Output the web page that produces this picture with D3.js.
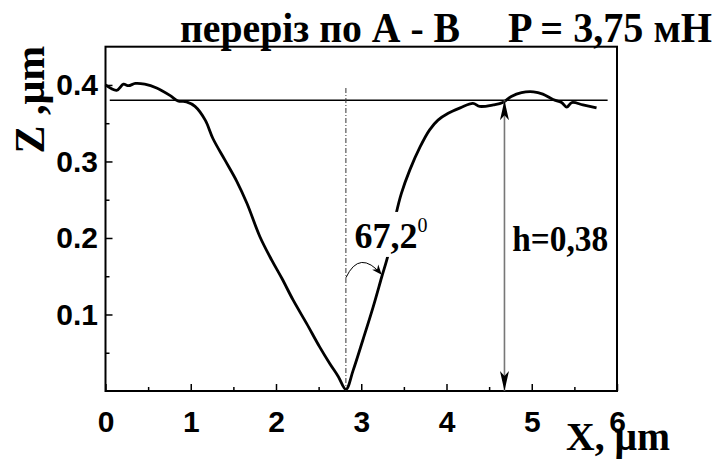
<!DOCTYPE html>
<html>
<head>
<meta charset="utf-8">
<script src="https://cdn.jsdelivr.net/npm/d3@7"></script>
<style>
  html, body { margin: 0; padding: 0; background: #fff; }
  svg { display: block; }
</style>
</head>
<body>
<svg id="chart" width="728" height="461"></svg>
<script>
// Surface profile along section A-B (AFM scan), X and Z in µm
const profileX = [0, 0.13, 0.21, 0.27, 0.35, 0.46, 0.60, 0.76, 0.85, 0.95, 1.05, 1.17, 1.26, 1.40, 1.54, 1.66,
  1.81, 1.95, 2.07, 2.20, 2.36, 2.51, 2.63, 2.73, 2.82, 2.905, 3.02, 3.14, 3.24, 3.32, 3.41, 3.47, 3.57,
  3.69, 3.80, 3.90, 4.02, 4.16, 4.31, 4.39, 4.55, 4.66, 4.76, 4.88, 5.02, 5.13, 5.25, 5.35, 5.41, 5.47,
  5.60, 5.76];
const profileZ = [0.400, 0.393, 0.401, 0.399, 0.402, 0.401, 0.396, 0.386, 0.379, 0.378, 0.372, 0.354, 0.330,
  0.302, 0.274, 0.245, 0.202, 0.171, 0.147, 0.119, 0.088, 0.058, 0.036, 0.019, 0.002, 0.027, 0.067, 0.110,
  0.149, 0.180, 0.232, 0.258, 0.289, 0.319, 0.341, 0.354, 0.363, 0.370, 0.376, 0.372, 0.374, 0.377, 0.385,
  0.390, 0.391, 0.388, 0.381, 0.377, 0.371, 0.377, 0.374, 0.370];

// Axis ticks
const xMajor = [0, 1, 2, 3, 4, 5, 6];
const xMinor = [0.5, 1.5, 2.5, 3.5, 4.5, 5.5];
const yMajor = [0.1, 0.2, 0.3, 0.4];
const yMinor = [0.05, 0.15, 0.25, 0.35];

// Annotations
const surfaceLevel = 0.38;     // h = 0,38 µm
const depthArrowX = 4.68;
const pitX = 2.82;             // deepest point of the indent
const pitLineTop = 0.396;
const levelLineX = [0.05, 5.89];
const angleArc = [[2.82, 0.148], [2.98, 0.186], [3.24, 0.152]];
const angleLabelPos = [2.92, 0.187];
const hLabelPos = [4.77, 0.183];

const titleLeft = "переріз по А - В";
const titleRight = "P = 3,75 мН";

const svg = d3.select("#chart");
const x = d3.scaleLinear().domain([0, 6]).range([105.5, 617]);
const y = d3.scaleLinear().domain([0, 0.45]).range([391, 46.7]);

const serif = "'Liberation Serif', 'Times New Roman', serif";
const sans = "'Liberation Sans', Arial, sans-serif";

// Title
svg.append("text").attr("x", 180).attr("y", 42)
  .attr("font-family", serif).attr("font-weight", "bold").attr("font-size", 42)
  .attr("textLength", 280).attr("lengthAdjust", "spacingAndGlyphs")
  .text(titleLeft);
svg.append("text").attr("x", 508).attr("y", 42)
  .attr("font-family", serif).attr("font-weight", "bold").attr("font-size", 42)
  .attr("textLength", 204).attr("lengthAdjust", "spacingAndGlyphs")
  .text(titleRight);

// Axes with inward ticks
const gx = svg.append("g").attr("transform", `translate(0,${y(0)})`);
gx.call(d3.axisBottom(x).tickValues(xMajor).tickSize(-7).tickPadding(20).tickFormat(d3.format("d")));
gx.append("g").call(d3.axisBottom(x).tickValues(xMinor).tickSize(-4).tickFormat(""));
gx.selectAll(".domain").remove();
gx.selectAll("line").attr("stroke", "#000").attr("stroke-width", 1.5);
gx.selectAll("text").attr("font-family", sans).attr("font-weight", "bold").attr("font-size", 30).attr("fill", "#000");

const gy = svg.append("g").attr("transform", `translate(${x(0)},0)`);
gy.call(d3.axisLeft(y).tickValues(yMajor).tickSize(-7).tickPadding(7.5).tickFormat(d3.format(".1f")));
gy.append("g").call(d3.axisLeft(y).tickValues(yMinor).tickSize(-4).tickFormat(""));
gy.selectAll(".domain").remove();
gy.selectAll("line").attr("stroke", "#000").attr("stroke-width", 1.5);
gy.selectAll("text").attr("font-family", sans).attr("font-weight", "bold").attr("font-size", 30).attr("fill", "#000");

// Frame
svg.append("rect")
  .attr("x", x(0)).attr("y", y(0.45))
  .attr("width", x(6) - x(0)).attr("height", y(0) - y(0.45))
  .attr("fill", "none").attr("stroke", "#000").attr("stroke-width", 2);

// Axis titles
svg.append("text")
  .attr("transform", `translate(44,${y(0.3) - 8}) rotate(-90)`)
  .attr("font-family", serif).attr("font-weight", "bold").attr("font-size", 42)
  .text("Z ,μm");
svg.append("text").attr("x", 566).attr("y", 450)
  .attr("font-family", serif).attr("font-weight", "bold").attr("font-size", 40)
  .attr("textLength", 104).attr("lengthAdjust", "spacingAndGlyphs")
  .text("X, μm");

// Markers
const defs = svg.append("defs");
defs.append("marker").attr("id", "headV")
  .attr("viewBox", "-20 -5 22 10").attr("refX", 0).attr("refY", 0)
  .attr("markerWidth", 22).attr("markerHeight", 10).attr("markerUnits", "userSpaceOnUse")
  .attr("orient", "auto-start-reverse")
  .append("path").attr("d", "M0,0 L-20,-4.5 L-15,0 L-20,4.5 Z").attr("fill", "#000");
defs.append("marker").attr("id", "headA")
  .attr("viewBox", "-10 -5 11 10").attr("refX", 0).attr("refY", 0)
  .attr("markerWidth", 11).attr("markerHeight", 10).attr("markerUnits", "userSpaceOnUse")
  .attr("orient", "auto")
  .append("path").attr("d", "M0,0 L-10,-4 L-7,0 L-10,4 Z").attr("fill", "#000");

// Surface level line
svg.append("line")
  .attr("x1", x(levelLineX[0])).attr("x2", x(levelLineX[1]))
  .attr("y1", y(surfaceLevel)).attr("y2", y(surfaceLevel))
  .attr("stroke", "#000").attr("stroke-width", 1.4);

// Vertical dash-dot line through the pit
svg.append("line")
  .attr("x1", x(pitX)).attr("x2", x(pitX))
  .attr("y1", y(pitLineTop)).attr("y2", y(0))
  .attr("stroke", "#333").attr("stroke-width", 1)
  .attr("stroke-dasharray", "5,2,1,2");

// Profile curve
const line = d3.line().x((d, i) => x(profileX[i])).y((d, i) => y(profileZ[i])).curve(d3.curveCatmullRom.alpha(0.5));
svg.append("path")
  .attr("d", line(profileX))
  .attr("fill", "none").attr("stroke", "#000").attr("stroke-width", 2.8)
  .attr("stroke-linejoin", "round");

// Depth arrow
svg.append("line")
  .attr("x1", x(depthArrowX)).attr("x2", x(depthArrowX))
  .attr("y1", y(surfaceLevel)).attr("y2", y(0))
  .attr("stroke", "#777").attr("stroke-width", 1.6)
  .attr("marker-start", "url(#headV)").attr("marker-end", "url(#headV)");

// Angle arc
svg.append("path")
  .attr("d", `M${x(angleArc[0][0])},${y(angleArc[0][1])} Q${x(angleArc[1][0])},${y(angleArc[1][1])} ${x(angleArc[2][0])},${y(angleArc[2][1])}`)
  .attr("fill", "none").attr("stroke", "#000").attr("stroke-width", 1)
  .attr("marker-end", "url(#headA)");

// Angle label on a white box
const ax = x(angleLabelPos[0]), ay = y(angleLabelPos[1]);
svg.append("rect").attr("x", ax - 3).attr("y", ay - 36).attr("width", 73).attr("height", 45).attr("fill", "#fff");
const at = svg.append("text").attr("x", ax).attr("y", ay)
  .attr("font-family", serif).attr("font-weight", "bold").attr("font-size", 36);
at.append("tspan").text("67,2");
at.append("tspan").attr("font-size", 20).attr("font-weight", "normal").attr("dy", -16).text("0");

svg.append("text").attr("x", x(hLabelPos[0])).attr("y", y(hLabelPos[1]))
  .attr("font-family", serif).attr("font-weight", "bold").attr("font-size", 36)
  .attr("textLength", 96).attr("lengthAdjust", "spacingAndGlyphs")
  .text("h=0,38");
</script>
</body>
</html>
